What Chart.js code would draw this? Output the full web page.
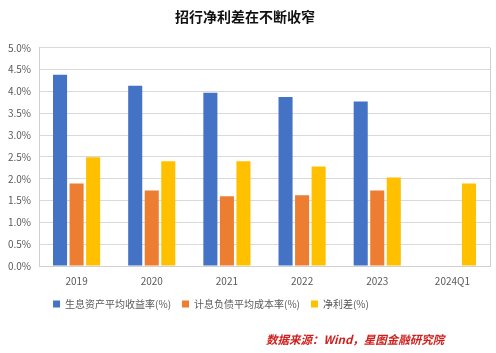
<!DOCTYPE html>
<html>
<head>
<meta charset="utf-8">
<script src="https://cdn.jsdelivr.net/npm/chart.js@4/dist/chart.umd.min.js"></script>
<style>
  html, body { margin: 0; padding: 0; background: #fff; }
  #wrap { position: relative; width: 496px; height: 353px; }
  #source {
    position: absolute; left: 266px; top: 331px;
    font-family: "Noto Sans CJK SC", sans-serif; font-size: 11.5px;
    font-weight: bold; font-style: italic; color: #d0201c; white-space: nowrap;
  }
</style>
</head>
<body>
<div id="wrap">
  <canvas id="chart" width="496" height="353"></canvas>
  <div id="source">数据来源：Wind，星图金融研究院</div>
</div>
<script>
const categories = ['2019', '2020', '2021', '2022', '2023', '2024Q1'];
const shengxi = [4.38, 4.13, 3.97, 3.87, 3.77, null];
const jixi = [1.89, 1.73, 1.60, 1.62, 1.73, null];
const jingli = [2.49, 2.40, 2.40, 2.28, 2.03, 1.89];
const yTicks = { min: 0, max: 5, step: 0.5 };

const font = '"Noto Sans CJK SC", "Noto Sans", sans-serif';

// right hand border of the plot area, and legend nudged left like the original
const tweaks = {
  id: 'tweaks',
  afterLayout(chart) {
    chart.legend.left -= 34;
    chart.legend.right -= 34;
  },
  afterDraw(chart) {
    const { ctx, chartArea } = chart;
    ctx.save();
    ctx.strokeStyle = '#d0d0d0';
    ctx.lineWidth = 1;
    ctx.beginPath();
    ctx.moveTo(Math.round(chartArea.right) + 0.5, chartArea.top);
    ctx.lineTo(Math.round(chartArea.right) + 0.5, chartArea.bottom);
    ctx.stroke();
    ctx.restore();
  }
};

new Chart(document.getElementById('chart'), {
  type: 'bar',
  data: {
    labels: categories,
    datasets: [
      { label: '生息资产平均收益率(%)', data: shengxi, backgroundColor: '#4472C4' },
      { label: '计息负债平均成本率(%)', data: jixi, backgroundColor: '#ED7D31' },
      { label: '净利差(%)', data: jingli, backgroundColor: '#FFC000' }
    ]
  },
  options: {
    responsive: false,
    animation: false,
    skipNull: false,
    layout: { padding: { left: 0, right: 6, top: 0, bottom: 34 } },
    datasets: { bar: { categoryPercentage: 0.66, barPercentage: 0.85 } },
    plugins: {
      title: {
        display: true,
        text: '招行净利差在不断收窄',
        color: '#111',
        font: { family: font, size: 14, weight: 'bold' },
        padding: { top: 8, bottom: 23 }
      },
      legend: {
        position: 'bottom',
        labels: {
          boxWidth: 7, boxHeight: 7, padding: 11,
          color: '#595959',
          font: { family: font, size: 10 }
        }
      },
      tooltip: { enabled: false }
    },
    scales: {
      x: {
        grid: { display: false },
        border: { color: '#d0d0d0' },
        ticks: { color: '#595959', font: { family: font, size: 10 }, padding: 1, autoSkip: false }
      },
      y: {
        min: yTicks.min, max: yTicks.max,
        afterFit(scale) { scale.width = 39; },
        grid: { color: '#d9d9d9', drawTicks: false },
        border: { color: '#d0d0d0' },
        ticks: {
          stepSize: yTicks.step, padding: 8,
          color: '#595959', font: { family: font, size: 10 },
          callback: v => v.toFixed(1) + '%'
        }
      }
    }
  },
  plugins: [tweaks]
});
</script>
</body>
</html>
